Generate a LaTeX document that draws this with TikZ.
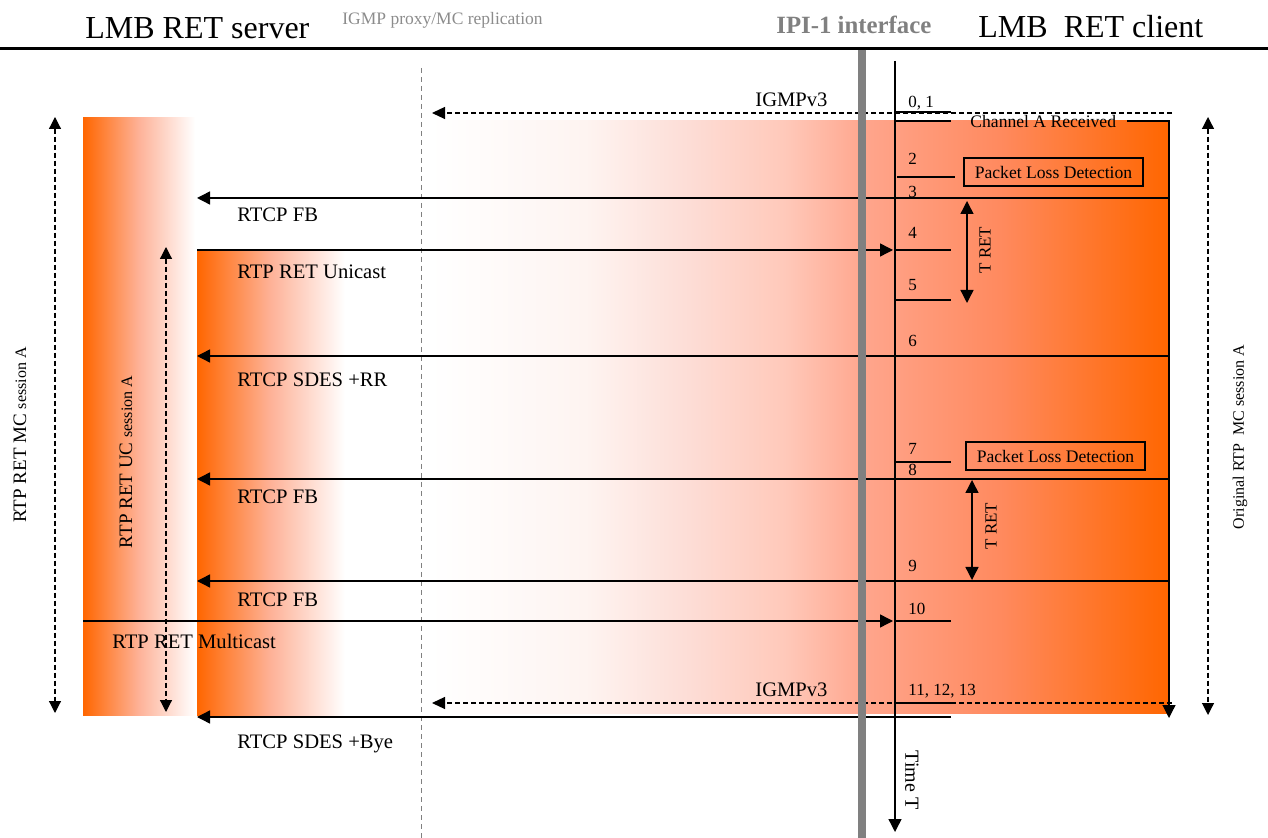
\documentclass[tikz,border=0pt]{standalone}
\usepackage{fontspec}
\setmainfont{Liberation Serif}
\usetikzlibrary{arrows.meta}

\definecolor{retorange}{RGB}{255,102,0}
\definecolor{retsalmon}{RGB}{254,178,152}
\definecolor{retgray}{RGB}{128,128,128}
\definecolor{retlight}{RGB}{140,140,140}
\definecolor{fadeA}{RGB}{254,244,241}
\definecolor{fadeB}{RGB}{253,221,214}
\definecolor{fadeC}{RGB}{255,201,186}
\definecolor{fadeD}{RGB}{255,165,140}
\definecolor{fadeE}{RGB}{255,138,95}

\pgfdeclarehorizontalshading{clientfade}{100bp}{color(0bp)=(white); color(25bp)=(white);
  color(35.5bp)=(fadeA); color(42.5bp)=(fadeB); color(49bp)=(fadeC); color(54.5bp)=(fadeD);
  color(63.5bp)=(fadeE); color(75bp)=(retorange); color(100bp)=(retorange)}

\tikzset{
  msg/.style={line width=0.7pt, -{Triangle[length=6.5pt,width=6.5pt]}},
  igmp/.style={line width=0.6pt, dash pattern=on 2.5pt off 1.5pt, -{Triangle[length=6.5pt,width=6pt]}},
  span/.style={line width=0.6pt, dash pattern=on 2.5pt off 1.5pt, {Triangle[length=6pt,width=6pt]}-{Triangle[length=6pt,width=6pt]}},
  tret/.style={line width=0.7pt, {Triangle[length=6.5pt,width=6.5pt]}-{Triangle[length=6.5pt,width=6.5pt]}},
  tick/.style={line width=0.6pt},
  title/.style={font=\fontsize{16}{19}\selectfont, anchor=base west, inner sep=0pt},
  lbl/.style={font=\fontsize{10.3}{12}\selectfont, anchor=base west, inner sep=0pt},
  num/.style={font=\fontsize{8.5}{10}\selectfont, anchor=base west, inner sep=0pt},
  lossbox/.style={draw, line width=0.6pt, minimum width=89.5pt, minimum height=14pt, inner sep=0pt, font=\fontsize{8.8}{10}\selectfont},
}

\begin{document}
\begin{tikzpicture}[x=0.5pt, y=-0.5pt]
\useasboundingbox (0,0) rectangle (1268,838);
\def\xsrv{197}
\def\xcli{1169}
\def\xtime{895}
\def\xtick{951}

% sessions
\shade[left color=retorange, right color=white, middle color=retsalmon] (83,118) rectangle (195,715);
\shade[left color=retorange, right color=white, middle color=retsalmon] (\xsrv,250) rectangle (345,715);
\shade[shading=clientfade] (430,121) rectangle (\xcli,713);

% header
\draw[line width=1.5pt] (0,49) -- (1268,49);
\node[title] (srvtitle) at (85,39) {LMB RET server};
\node[title] (clititle) at (978,38) {LMB~~RET client};
\node[anchor=base west, inner sep=0pt, text=retlight, font=\fontsize{8.75}{10}\selectfont] (proxy) at (342,25) {IGMP proxy/MC replication};
\node[anchor=base west, inner sep=0pt, text=retgray, font=\fontsize{12.4}{14}\selectfont\bfseries] (ipi) at (776,34) {IPI-1 interface};

\draw[retgray, line width=0.5pt, dash pattern=on 2.5pt off 2pt] (421,68) -- (421,838);

% time axis
\draw[line width=0.7pt, -{Triangle[length=6.5pt,width=6.5pt]}] (\xtime,61) -- (\xtime,832);
\node[rotate=-90, font=\fontsize{10}{12}\selectfont] (timeT) at (912,780) {Time T};

% messages
\draw[igmp] (1172,113) -- (432,113);
\draw[tick, -{Triangle[length=6.5pt,width=6.5pt]}] (1127,121) -- (\xcli,121) -- (\xcli,718);
\draw[msg] (\xcli,198) -- (\xsrv,198);
\draw[msg] (\xsrv,250) -- (893,250);
\draw[msg] (\xcli,356) -- (\xsrv,356);
\draw[msg] (\xcli,479) -- (\xsrv,479);
\draw[msg] (\xcli,581) -- (\xsrv,581);
\draw[msg] (83,621) -- (893,621);
\draw[igmp] (1172,703) -- (432,703);
\draw[msg] (\xtick,717) -- (\xsrv,717);

% ticks
\foreach \y in {112,121,250,300,462,621,703}
  \draw[tick] (\xtime,\y) -- (\xtick,\y);
\draw[tick] (897,177) -- (955,177);

\draw[retgray, line width=4pt] (862,50) -- (862,838);

% numbers
\node[num] (n01) at (908,108) {0, 1};
\node[num] (n2) at (908,165) {2};
\node[num] (n3) at (908,198) {3};
\node[num] (n4) at (908,239) {4};
\node[num] (n5) at (908,291) {5};
\node[num] (n6) at (908,347) {6};
\node[num] (n7) at (908,455) {7};
\node[num] (n8) at (908,476) {8};
\node[num] (n9) at (908,572) {9};
\node[num] (n10) at (908,615) {10};
\node[num] (n1113) at (908,696) {11, 12, 13};

% labels
\node[lbl] (igmp1) at (755,107) {IGMPv3};
\node[anchor=base west, inner sep=0pt, font=\fontsize{8.8}{10}\selectfont] (chanA) at (970,128) {Channel A Received};
\node[lbl] (fb1) at (237,222) {RTCP FB};
\node[lbl] (uni) at (237,279) {RTP RET Unicast};
\node[lbl] (sdesrr) at (237,387) {RTCP SDES +RR};
\node[lbl] (fb2) at (237,504) {RTCP FB};
\node[lbl] (fb3) at (237,607) {RTCP FB};
\node[lbl] (multi) at (112,648) {RTP RET Multicast};
\node[lbl] (igmp2) at (755,697) {IGMPv3};
\node[lbl] (sdesbye) at (237,748) {RTCP SDES +Bye};

\node[lossbox] (pld1) at (1053.5,172) {Packet Loss Detection};
\node[lossbox] (pld2) at (1055.5,456) {Packet Loss Detection};

\draw[tret] (967,201) -- (967,303);
\node[rotate=90, font=\fontsize{8.5}{10}\selectfont] (tret1) at (985,250) {T RET};
\draw[tret] (972,480) -- (972,580);
\node[rotate=90, font=\fontsize{8.5}{10}\selectfont] (tret2) at (991,526) {T RET};

% session spans
\draw[span] (55,117) -- (55,713);
\node[rotate=90] (mcA) at (20,435) {\fontsize{9.5}{11}\selectfont RTP RET MC \fontsize{8}{9}\selectfont session A};
\draw[span] (166,247) -- (166,712);
\node[rotate=90] (ucA) at (126,462) {\fontsize{9.5}{11}\selectfont RTP RET UC \fontsize{8}{9}\selectfont session A};
\draw[span] (1208,117) -- (1208,715);
\node[rotate=90, font=\fontsize{8}{9}\selectfont] (origA) at (1240,437) {Original RTP~~MC session A};

\end{tikzpicture}
\end{document}
